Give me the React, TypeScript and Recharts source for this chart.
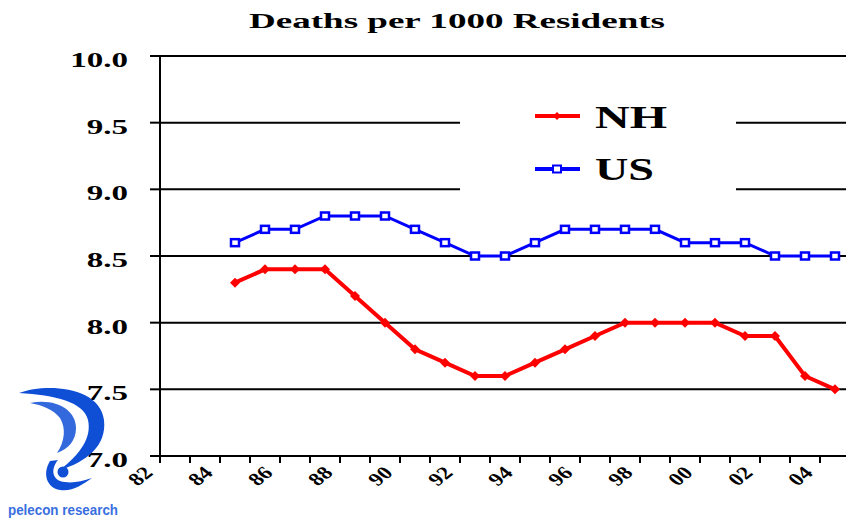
import { CartesianGrid, Line, LineChart, XAxis, YAxis } from "recharts"

const years = [85, 86, 87, 88, 89, 90, 91, 92, 93, 94, 95, 96, 97, 98, 99, 100, 101, 102, 103, 104, 105]
const nhRates = [8.3, 8.4, 8.4, 8.4, 8.2, 8.0, 7.8, 7.7, 7.6, 7.6, 7.7, 7.8, 7.9, 8.0, 8.0, 8.0, 8.0, 7.9, 7.9, 7.6, 7.5]
const usRates = [8.6, 8.7, 8.7, 8.8, 8.8, 8.8, 8.7, 8.6, 8.5, 8.5, 8.6, 8.7, 8.7, 8.7, 8.7, 8.6, 8.6, 8.6, 8.5, 8.5, 8.5]

const yTicks = [7.0, 7.5, 8.0, 8.5, 9.0, 9.5, 10.0]
// tick marks sit on category boundaries, labels every other year
const xTicks = [82.5, 83.5, 84.5, 85.5, 86.5, 87.5, 88.5, 89.5, 90.5, 91.5, 92.5, 93.5, 94.5, 95.5, 96.5, 97.5, 98.5, 99.5, 100.5, 101.5, 102.5, 103.5, 104.5, 105.5]
const labelYears = [82, 84, 86, 88, 90, 92, 94, 96, 98, 100, 102, 104]
const labelTexts = ["82", "84", "86", "88", "90", "92", "94", "96", "98", "00", "02", "04"]

const data = years.map((year, i) => ({ year, NH: nhRates[i], US: usRates[i] }))

const FONT = "'Liberation Serif', 'Times New Roman', serif"

const YTick = (props: any) => {
  const { x, y, payload } = props
  return (
    <g transform={`translate(${x},${y + 11}) scale(1.5,1)`}>
      <text x={0} y={0} textAnchor="end" fontFamily={FONT} fontWeight="bold" fontSize={22} fill="#000">
        {Number(payload.value).toFixed(1)}
      </text>
    </g>
  )
}

const XTick = (props: any) => {
  const { x, y, payload } = props
  const idx = labelYears.indexOf(payload.value - 0.5)
  if (idx < 0) return null
  return (
    <g transform={`translate(${x - 6},${y + 9}) scale(1.3,1) rotate(-45)`}>
      <text x={0} y={0} textAnchor="end" fontFamily={FONT} fontWeight="bold" fontSize={18} fill="#000">
        {labelTexts[idx]}
      </text>
    </g>
  )
}

const Diamond = (props: any) => {
  const { cx, cy } = props
  if (cx == null || cy == null) return null
  return <polygon points={`${cx},${cy - 5} ${cx + 5},${cy} ${cx},${cy + 5} ${cx - 5},${cy}`} fill="#ff0000" />
}

const Square = (props: any) => {
  const { cx, cy } = props
  if (cx == null || cy == null) return null
  return <rect x={cx - 4} y={cy - 3.5} width={8} height={7} fill="#fff" stroke="#0000ff" strokeWidth={2.5} />
}

function LegendBox() {
  return (
    <div style={{ position: "absolute", left: 460, top: 92, width: 276, height: 106, background: "#fff" }}>
      <svg width={276} height={106}>
        <line x1={75} y1={24} x2={120} y2={24} stroke="#ff0000" strokeWidth={4} />
        <polygon points="97,20 101,24 97,28 93,24" fill="#ff0000" />
        <text x={135} y={36} fontFamily={FONT} fontWeight="bold" fontSize={31} textLength={72} lengthAdjust="spacingAndGlyphs">
          NH
        </text>
        <line x1={75} y1={77} x2={120} y2={77} stroke="#0000ff" strokeWidth={4} />
        <rect x={93} y={73.5} width={8} height={7} fill="#fff" stroke="#0000ff" strokeWidth={2} />
        <text x={135} y={88} fontFamily={FONT} fontWeight="bold" fontSize={31} textLength={59} lengthAdjust="spacingAndGlyphs">
          US
        </text>
      </svg>
    </div>
  )
}

function Logo() {
  const blue = "#0f4fd6"
  return (
    <svg width={130} height={140} style={{ position: "absolute", left: 0, top: 381 }} viewBox="0 381 130 140">
      <path d="M19,393 C45,383 100,386 104,420 C107,446 86,462 60,470 C80,454 92,438 88,420 C84,402 55,395 19,393 Z" fill={blue} />
      <path d="M30,403 C56,398 76,410 76,428 C76,441 68,449 57,453 C65,441 66,428 60,418 C54,410 42,405 30,403 Z" fill={blue} opacity={0.85} />
      <path d="M50,461 C42,474 47,488 60,490 C72,492 82,485 92,478 C80,482 70,484 60,481 C51,477 52,467 58,460 Z" fill={blue} />
      <circle cx={63} cy={472} r={5.5} fill={blue} />
      <text x={8} y={515} fontFamily="'Liberation Sans', Arial, sans-serif" fontWeight="bold" fontSize={14} fill="#3a6fe0" textLength={110} lengthAdjust="spacingAndGlyphs">
        pelecon research
      </text>
    </svg>
  )
}

export default function App() {
  return (
    <div style={{ position: "absolute", left: 0, top: 0, width: 846, height: 521, overflow: "hidden", background: "#fff" }}>
      <svg width={846} height={40} style={{ position: "absolute", left: 0, top: 0 }}>
        <text x={249} y={28} fontFamily={FONT} fontWeight="bold" fontSize={21} textLength={416} lengthAdjust="spacingAndGlyphs">
          Deaths per 1000 Residents
        </text>
      </svg>
      <LineChart width={850} height={521} data={data} margin={{ top: 56, right: 0, left: 0, bottom: 0 }}>
        <CartesianGrid horizontal vertical={false} stroke="#000" strokeWidth={2} />
        <XAxis
          dataKey="year"
          type="number"
          domain={[82.5, 105.5]}
          ticks={xTicks}
          interval={0}
          height={65}
          tickSize={7}
          axisLine={{ stroke: "#000", strokeWidth: 2 }}
          tickLine={{ stroke: "#000", strokeWidth: 2 }}
          tick={<XTick />}
        />
        <YAxis
          type="number"
          domain={[7, 10]}
          ticks={yTicks}
          interval={0}
          width={160}
          tickSize={10}
          tickMargin={22}
          axisLine={{ stroke: "#000", strokeWidth: 2 }}
          tickLine={{ stroke: "#000", strokeWidth: 2 }}
          tick={<YTick />}
        />
        <Line type="linear" dataKey="US" stroke="#0000ff" strokeWidth={3} dot={<Square />} isAnimationActive={false} />
        <Line type="linear" dataKey="NH" stroke="#ff0000" strokeWidth={4} dot={<Diamond />} isAnimationActive={false} />
      </LineChart>
      <LegendBox />
      <Logo />
    </div>
  )
}
